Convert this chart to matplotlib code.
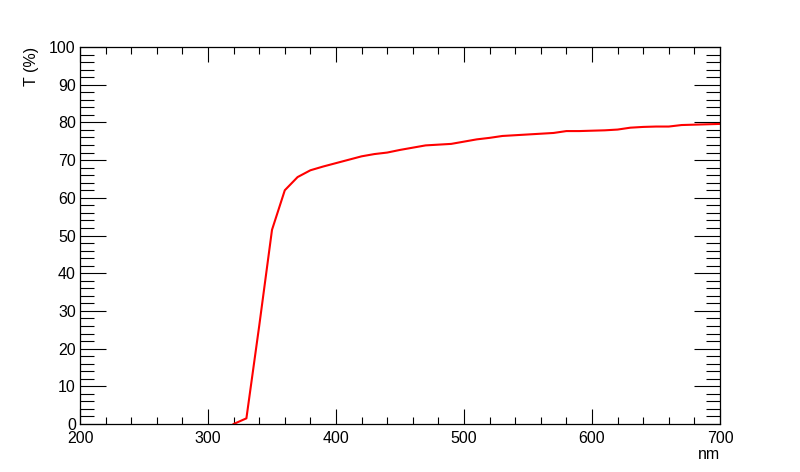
import matplotlib
matplotlib.use("Agg")
import matplotlib.pyplot as plt
from matplotlib.ticker import MultipleLocator

# transmission curve
wavelength = [320, 330, 340, 350, 360, 370, 380, 390, 400, 410, 420, 430, 440,
              450, 460, 470, 480, 490, 500, 510, 520, 530, 540, 550, 560, 570,
              580, 590, 600, 610, 620, 630, 640, 650, 660, 670, 680, 690, 700]
transmission = [0.0, 1.5, 26.0, 51.5, 62.0, 65.5, 67.3, 68.3, 69.2, 70.1, 71.0,
                71.6, 72.0, 72.7, 73.3, 73.9, 74.1, 74.3, 74.9, 75.5, 75.9, 76.4,
                76.6, 76.8, 77.0, 77.2, 77.7, 77.7, 77.8, 77.9, 78.1, 78.6, 78.8,
                78.9, 78.9, 79.3, 79.4, 79.5, 79.6]

plt.rcParams['font.family'] = ['Liberation Sans', 'DejaVu Sans']

fig = plt.figure(figsize=(8, 4.72), dpi=100)
ax = fig.add_axes([80 / 800, 1 - 424 / 472, 640 / 800, 377 / 472])

ax.plot(wavelength, transmission, color='#ff0000', linewidth=1.5)

ax.set_xlim(200, 700)
ax.set_ylim(0, 100)
ax.xaxis.set_major_locator(MultipleLocator(100))
ax.xaxis.set_minor_locator(MultipleLocator(20))
ax.yaxis.set_major_locator(MultipleLocator(10))
ax.yaxis.set_minor_locator(MultipleLocator(2))

ax.tick_params(which='both', direction='in', top=True, right=True,
               labelsize=11.5, width=0.8, color='black')
ax.tick_params(axis='x', which='major', length=11, pad=5)
ax.tick_params(axis='x', which='minor', length=5)
ax.tick_params(axis='y', which='major', length=19, pad=3)
ax.tick_params(axis='y', which='minor', length=10)
for s in ax.spines.values():
    s.set_linewidth(0.9)

ax.set_xlabel('nm', fontsize=11.5, loc='right', labelpad=1)
ax.set_ylabel('T (%)', fontsize=11.5, loc='top', labelpad=7)

fig.savefig('out.png', dpi=100)
